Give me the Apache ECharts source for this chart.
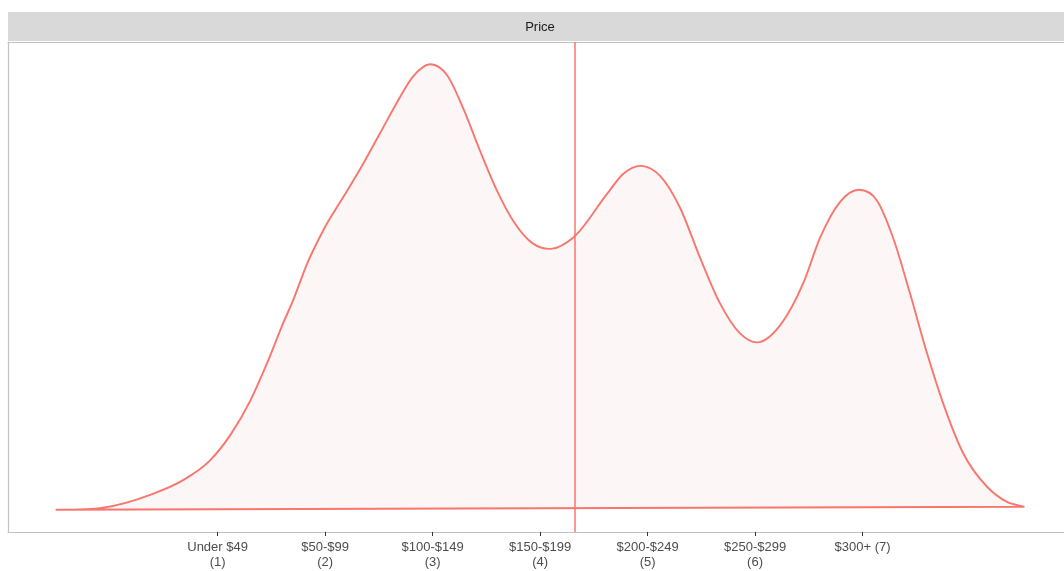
<!DOCTYPE html>
<html>
<head>
<meta charset="utf-8">
<script src="https://cdn.jsdelivr.net/npm/echarts@6/dist/echarts.min.js"></script>
<style>
html,body{margin:0;padding:0;background:#fff;}
#chart{width:1064px;height:571px;}
</style>
</head>
<body>
<div id="chart"></div>
<script>
// Price category codes (x) and estimated kernel density (y)
const priceX = [-0.5,-0.093,0.372,0.679,0.930,1.116,1.302,1.460,1.609,1.702,1.833,1.981,2.205,2.353,2.512,2.670,2.819,2.977,3.135,3.284,3.442,3.600,3.749,3.935,4.112,4.307,4.623,4.772,4.949,5.116,5.302,5.488,5.674,5.860,6.019,6.233,6.447,6.605,6.791,6.967,7.135,7.284,7.442,7.600,7.749,7.935,8.158,8.344,8.5];
const density = [0,0.0008,0.0083,0.0165,0.0275,0.0414,0.0605,0.0816,0.1038,0.1166,0.1371,0.1554,0.1776,0.1926,0.2098,0.2270,0.2414,0.2481,0.2420,0.2237,0.1998,0.1776,0.1610,0.1482,0.1454,0.1515,0.1759,0.1870,0.1915,0.1859,0.1682,0.1404,0.1149,0.0982,0.0932,0.1027,0.1260,0.1515,0.1715,0.1782,0.1721,0.1515,0.1204,0.0871,0.0594,0.0316,0.0128,0.0044,0.0017];
const tickValues = [1,2,3,4,5,6,7];
const tickLabels = ["Under $49\n(1)","$50-$99\n(2)","$100-$149\n(3)","$150-$199\n(4)","$200-$249\n(5)","$250-$299\n(6)","$300+ (7)"];
const meanPrice = 4.316;
const facetTitle = "Price";

const red = '#F8766D';
const axisGrey = '#c2c2c2';
const curve = priceX.map((x,i)=>[x,density[i]]);

// Smooth (cubic Hermite) path through the projected points, closed back to the first point
function densityPath(pts){
  const n = pts.length;
  const s = new Array(n);
  for(let i=0;i<n;i++){
    if(i===0){ s[i]=(pts[1][1]-pts[0][1])/(pts[1][0]-pts[0][0]); }
    else if(i===n-1){ s[i]=(pts[n-1][1]-pts[n-2][1])/(pts[n-1][0]-pts[n-2][0]); }
    else{
      const h0=pts[i][0]-pts[i-1][0], h1=pts[i+1][0]-pts[i][0];
      const d0=(pts[i][1]-pts[i-1][1])/h0, d1=(pts[i+1][1]-pts[i][1])/h1;
      s[i]=(d0*h1+d1*h0)/(h0+h1);
    }
  }
  let d='M'+pts[0][0]+' '+pts[0][1];
  for(let i=0;i<n-1;i++){
    const h=pts[i+1][0]-pts[i][0];
    d+=' C'+(pts[i][0]+h/3)+' '+(pts[i][1]+s[i]*h/3)+' '+(pts[i+1][0]-h/3)+' '+(pts[i+1][1]-s[i+1]*h/3)+' '+pts[i+1][0]+' '+pts[i+1][1];
  }
  d+=' L'+pts[0][0]+' '+pts[0][1]+' Z';
  return d;
}

const chart = echarts.init(document.getElementById('chart'), null, {renderer:'canvas'});
chart.setOption({
  animation:false,
  backgroundColor:'#ffffff',
  grid:{left:8, top:42, right:0, height:490, show:false},
  graphic:[
    {type:'rect', left:8, top:12, shape:{width:1060, height:29}, style:{fill:'#d9d9d9'}, z:10},
    {type:'text', x:540, y:27, style:{text:facetTitle, fill:'#1a1a1a', font:'13px "Liberation Sans", Arial, sans-serif', align:'center', verticalAlign:'middle'}, z:11}
  ],
  xAxis:[{
    type:'value', min:-0.95, max:8.874,
    axisLine:{show:true, onZero:false, lineStyle:{color:axisGrey, width:1.2}},
    splitLine:{show:false},
    axisTick:{show:true, customValues:tickValues, length:4, inside:false, lineStyle:{color:'#333333', width:1}},
    axisLabel:{show:true, customValues:tickValues, margin:8, color:'#4d4d4d', fontSize:13, lineHeight:15,
      fontFamily:'"Liberation Sans", Arial, sans-serif',
      formatter:function(v){ const i = tickValues.indexOf(Math.round(v)); return i>=0 ? tickLabels[i] : ''; }}
  },{
    type:'value', position:'top', min:-0.95, max:8.874,
    axisLine:{show:true, onZero:false, lineStyle:{color:axisGrey, width:1.2}},
    axisTick:{show:false}, axisLabel:{show:false}, splitLine:{show:false}
  }],
  yAxis:{
    type:'value', min:-0.0124, max:0.2605,
    axisLine:{show:true, onZero:false, lineStyle:{color:axisGrey, width:1.2}},
    axisTick:{show:false}, axisLabel:{show:false}, splitLine:{show:false}
  },
  series:[
    {
      type:'custom', data:curve, coordinateSystem:'cartesian2d',
      encode:{x:0, y:1},
      renderItem:function(params, api){
        if(params.dataIndex!==0) return null;
        const pts = curve.map(p=>api.coord(p));
        return {
          type:'path',
          shape:{pathData:densityPath(pts)},
          style:{fill:'#fcf6f6', stroke:red, lineWidth:1.9, lineJoin:'round'}
        };
      },
      z:3
    },
    {
      type:'line', data:[], symbol:'none',
      markLine:{
        silent:true, symbol:['none','none'], label:{show:false},
        lineStyle:{color:red, width:1.5, type:'solid'},
        data:[{xAxis:meanPrice}]
      },
      z:4
    }
  ]
});
</script>
</body>
</html>
